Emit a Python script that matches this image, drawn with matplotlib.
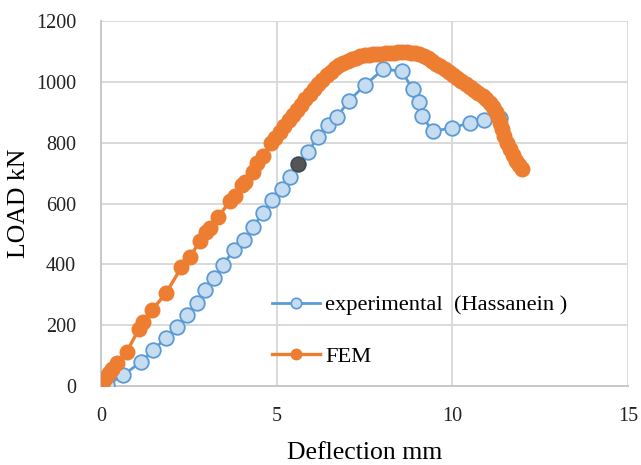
import matplotlib
matplotlib.use("Agg")
import matplotlib.pyplot as plt
from matplotlib.lines import Line2D

plt.rcParams['font.family'] = ['Liberation Serif', 'DejaVu Serif']

# Experimental (Hassanein)
exp_x = [0, 0.17, 0.63, 1.14, 1.48, 1.85, 2.16, 2.44, 2.73, 2.96, 3.21, 3.47, 3.78,
         4.07, 4.32, 4.61, 4.87, 5.15, 5.37, 5.62, 5.89, 6.17, 6.45, 6.71, 7.06, 7.51,
         8.04, 8.56, 8.87, 9.04, 9.13, 9.44, 9.98, 10.49, 10.89, 11.35]
exp_y = [0, 3, 36, 79, 118, 158, 194, 233, 273, 316, 355, 398, 447,
         480, 523, 569, 610, 648, 687, 730, 768, 819, 858, 884, 938, 989,
         1042, 1035, 976, 934, 888, 838, 848, 865, 874, 881]
highlight_index = 19  # dark marker

# FEM
fem_x = [0, 0.06, 0.13, 0.22, 0.3, 0.45, 0.73, 1.08, 1.2, 1.45, 1.85, 2.29, 2.53,
         2.81, 3.0, 3.1, 3.33, 3.67, 3.8, 4.0, 4.1, 4.32, 4.45, 4.6, 4.85, 4.95,
         5.1, 5.22, 5.34, 5.46, 5.58, 5.7, 5.82, 5.94, 6.06, 6.18, 6.3, 6.42, 6.54,
         6.66, 6.78, 6.9, 7.02, 7.14, 7.26, 7.38, 7.5, 7.62, 7.74, 7.86, 7.98, 8.1,
         8.22, 8.34, 8.46, 8.58, 8.7, 8.82, 8.94, 9.06, 9.18, 9.3, 9.42, 9.54, 9.66,
         9.78, 9.9, 10.02, 10.14, 10.26, 10.38, 10.5, 10.62, 10.74, 10.86, 10.96,
         11.06, 11.15, 11.23, 11.3, 11.36, 11.42, 11.48, 11.55, 11.63, 11.72, 11.81,
         11.9, 11.98]
fem_y = [0, 12, 28, 42, 55, 75, 112, 188, 210, 250, 305, 391, 424,
         476, 505, 520, 555, 608, 624, 661, 672, 705, 733, 755, 800, 815,
         835, 855, 873, 890, 908, 925, 943, 960, 976, 992, 1007, 1021, 1033,
         1044, 1054, 1062, 1069, 1075, 1080, 1084, 1087, 1089, 1091, 1092, 1093, 1094,
         1095, 1096, 1097, 1097, 1097, 1096, 1094, 1090, 1084, 1077, 1069, 1060, 1051,
         1042, 1033, 1023, 1013, 1003, 993, 983, 973, 963, 953, 943,
         932, 918, 902, 885, 866, 845, 823, 800, 779, 758, 740,
         725, 712]

x_ticks = [0, 5, 10, 15]
y_ticks = [0, 200, 400, 600, 800, 1000, 1200]

blue = '#5b9bd5'
blue_fill = '#c6dcf1'
orange = '#ed7d31'

fig = plt.figure(figsize=(6.41, 4.65), dpi=100)
ax = fig.add_axes([0.1576, 0.1699, 0.8221, 0.7849])

ax.plot(exp_x, exp_y, color=blue, lw=2.0, marker='o', ms=10.5,
        mfc=blue_fill, mec=blue, mew=1.3, zorder=3,
        label='experimental  (Hassanein )')
ax.plot([exp_x[highlight_index]], [exp_y[highlight_index]], 'o', ms=10.5,
        mfc='#555555', mec='#444444', mew=1.0, zorder=3.5)
ax.plot(fem_x, fem_y, color=orange, lw=2.4, marker='o', ms=10.5,
        mfc=orange, mec=orange, zorder=4, label='FEM')

ax.set_xlim(0, 15)
ax.set_ylim(0, 1200)
ax.set_xticks(x_ticks)
ax.set_yticks(y_ticks)
ax.tick_params(length=0, labelsize=14.5, colors='#222222')
ax.tick_params(axis='x', pad=15)
ax.tick_params(axis='y', pad=18)
ax.grid(True, color='#d9d9d9', lw=1.4)
ax.set_axisbelow(True)
for s in ['top', 'right']:
    ax.spines[s].set_visible(False)
for s in ['left', 'bottom']:
    ax.spines[s].set_color('#c8c8c8')
    ax.spines[s].set_linewidth(1.4)

ax.set_xlabel('Deflection mm', fontsize=18.5, labelpad=12)
ax.set_ylabel('LOAD kN', fontsize=18.5, labelpad=4)

handles = [
    Line2D([], [], color=blue, lw=2.0, marker='o', ms=7.5, mfc=blue_fill, mec=blue, mew=1.2),
    Line2D([], [], color=orange, lw=2.4, marker='o', ms=7.5, mfc=orange, mec=orange),
]
leg = ax.legend(handles, ['experimental  (Hassanein )', 'FEM'],
                loc='upper left', bbox_to_anchor=(0.308, 0.275),
                frameon=False, fontsize=16.2, labelspacing=1.35,
                handlelength=2.1, handletextpad=0.25, borderaxespad=0)

fig.savefig('out.png', dpi=100)
